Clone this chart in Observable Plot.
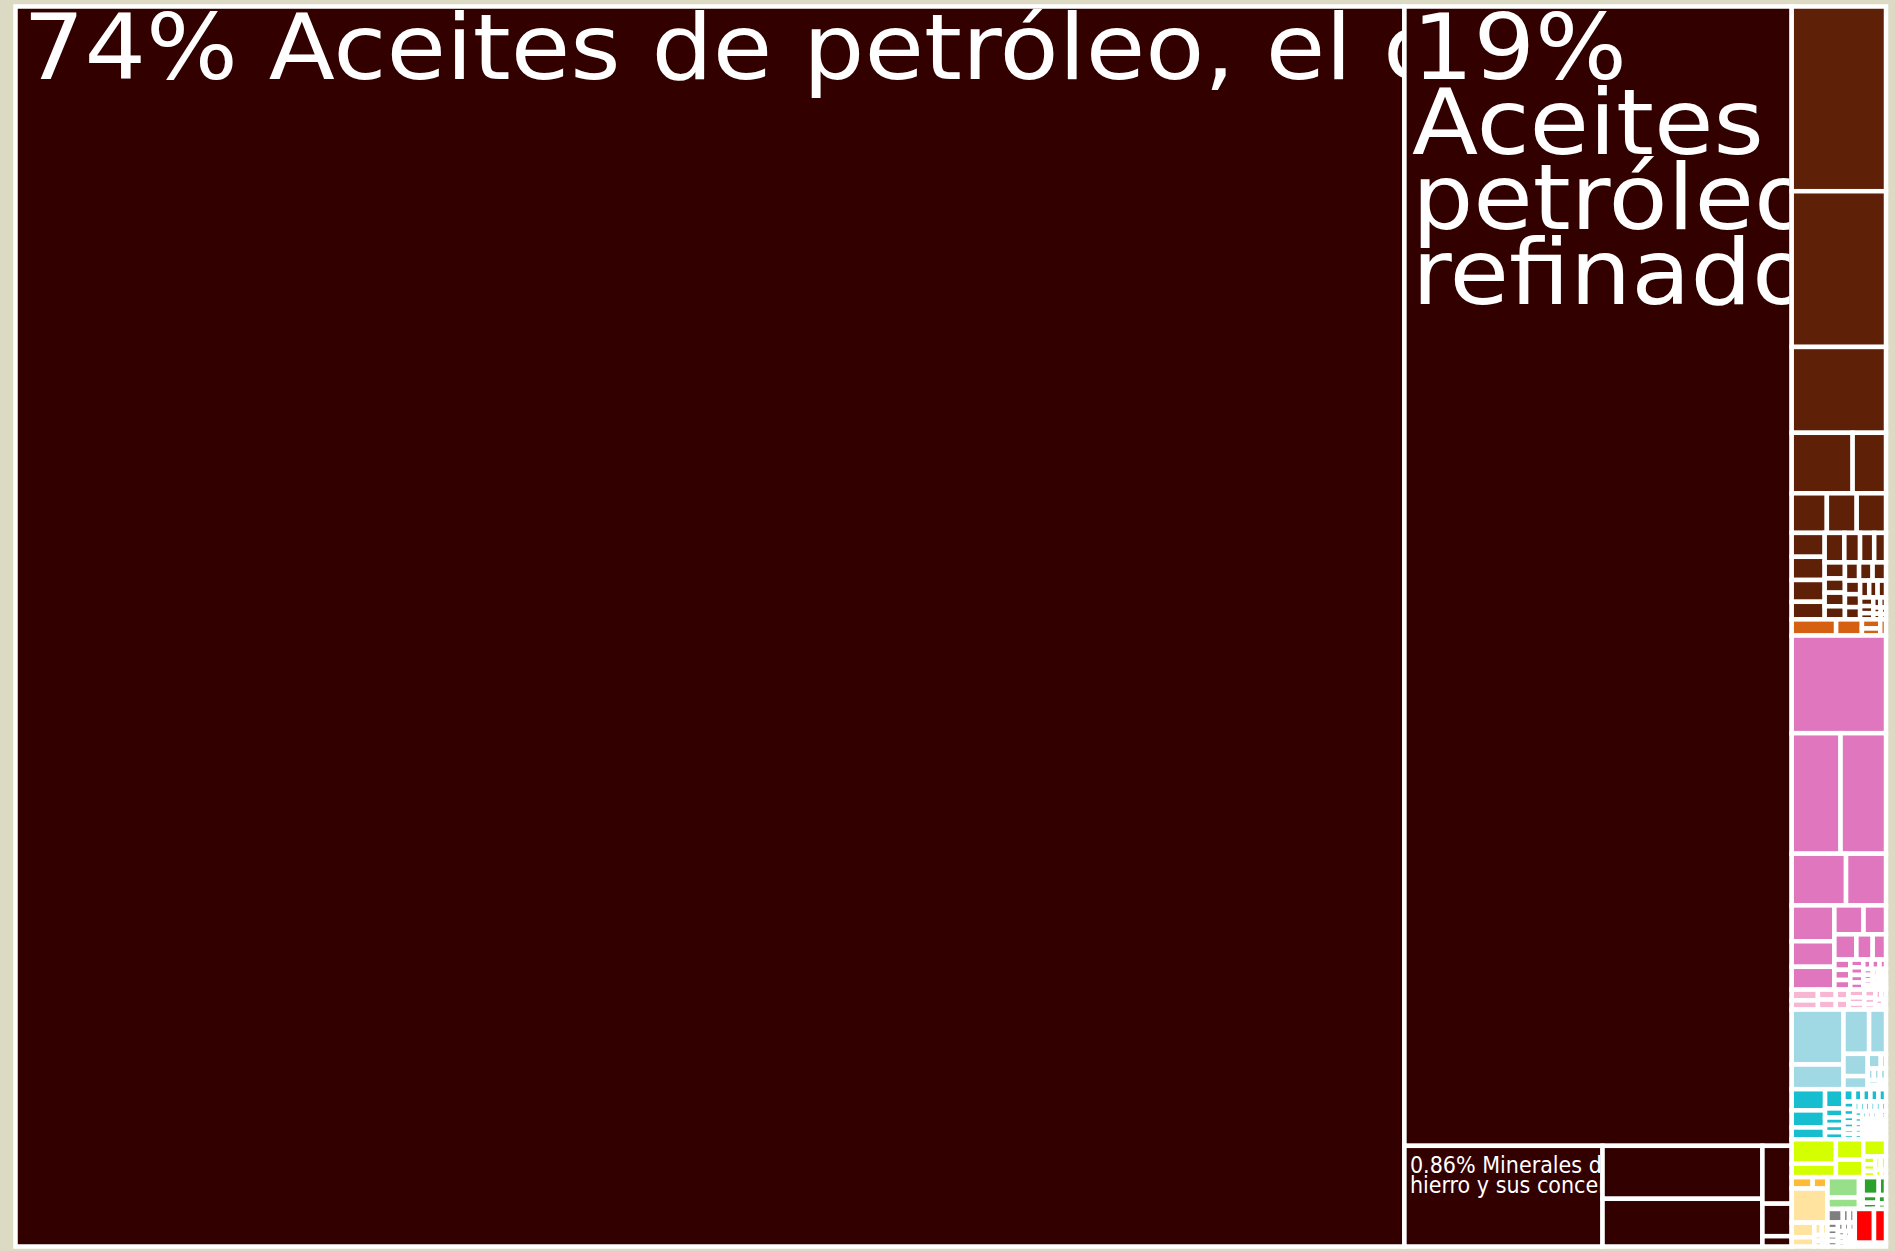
<!DOCTYPE html>
<html>
<head>
<meta charset="utf-8">
<script src="https://cdn.jsdelivr.net/npm/d3@7"></script>
<script src="https://cdn.jsdelivr.net/npm/@observablehq/plot@0.6"></script>
<style>
  html, body { margin: 0; padding: 0; background: #dddac4; overflow: hidden; }
  #chart svg { display: block; }
</style>
</head>
<body>
<div id="chart"></div>
<script>
// ---------------- DATA (share of exports, %) ----------------
const sectors = ["Sector 1", "Sector 2", "Sector 3", "Sector 4", "Sector 5", "Sector 6", "Sector 7",
                 "Sector 8", "Sector 9", "Sector 10", "Sector 11", "Sector 12", "Sector 13", "Sector 14"];

const sector01 = [74.24, 19.02, 0.86, 0.365, 0.329, 0.073, 0.041, 0.013];
const sector02 = [0.751, 0.633, 0.349, 0.159, 0.087, 0.060, 0.051, 0.050, 0.034, 0.033, 0.031, 0.025, 0.025,
                  0.020, 0.018, 0.015, 0.014, 0.0124, 0.0119, 0.0114, 0.0111, 0.0106, 0.0105, 0.0089, 0.0085,
                  0.0080, 0.0066, 0.0061, 0.0061, 0.0049, 0.004, 0.0035, 0.003, 0.0025, 0.002, 0.0018, 0.0015, 0.0012];
const sector03 = [0.031, 0.018, 0.0072, 0.0056, 0.004];
const sector04 = [0.397, 0.254, 0.236, 0.121, 0.089, 0.066, 0.047, 0.042, 0.0364, 0.028, 0.024, 0.0178, 0.0145,
                  0.007, 0.007, 0.0066, 0.0043, 0.0043, 0.0042, 0.004, 0.0033, 0.0033, 0.0026, 0.0024, 0.0022,
                  0.002, 0.0018, 0.0017, 0.0015, 0.0013, 0.0013, 0.0011, 0.0011, 0.0009, 0.0008, 0.0008, 0.0007, 0.0006];
const sector05 = [0.0122, 0.0104, 0.0077, 0.0077, 0.0055, 0.0055, 0.0052, 0.0042, 0.0041, 0.0039, 0.003,
                  0.0026, 0.0025, 0.002, 0.002, 0.0015, 0.0012];
const sector06 = [0.1226, 0.0551, 0.0489, 0.0322, 0.0233, 0.0137, 0.0083, 0.0033, 0.003, 0.003, 0.003,
                  0.0025, 0.002, 0.0015, 0.0012];
const sector07 = [0.0305, 0.0246, 0.017, 0.0152, 0.0072, 0.0059, 0.0057, 0.0056, 0.0056, 0.0045, 0.0043,
                  0.0043, 0.004, 0.0035, 0.0034, 0.003, 0.003, 0.0025, 0.0025, 0.0022, 0.0022, 0.0022, 0.0022,
                  0.0022, 0.0021, 0.002, 0.002, 0.0019, 0.0018, 0.0018, 0.0017, 0.0016, 0.0016, 0.0015, 0.0015,
                  0.0014, 0.0014, 0.0013, 0.0013, 0.0012, 0.0012, 0.0011, 0.0011, 0.001, 0.001, 0.001, 0.0009,
                  0.0009, 0.0008, 0.0008, 0.0008, 0.0007, 0.0007, 0.0006, 0.0006, 0.0005, 0.0005];
const sector08 = [0.0465, 0.0257, 0.0241, 0.0206, 0.0169, 0.004, 0.0035, 0.0032, 0.003, 0.003, 0.002, 0.0015];
const sector09 = [0.0103, 0.0073];
const sector10 = [0.0526, 0.0143, 0.009, 0.004, 0.003, 0.002, 0.002, 0.0015, 0.001];
const sector11 = [0.0277, 0.0155, 0.003, 0.002];
const sector12 = [0.0124, 0.0056, 0.005, 0.004, 0.003, 0.002];
const sector13 = [0.009, 0.0036, 0.0034, 0.003, 0.0028, 0.0025, 0.0025, 0.0022, 0.002, 0.002, 0.0018, 0.0016,
                  0.0015, 0.0014, 0.0012, 0.001, 0.001, 0.0009, 0.0008];
const sector14 = [0.028, 0.0175, 0.005];

const sectorValues = [sector01, sector02, sector03, sector04, sector05, sector06, sector07,
                      sector08, sector09, sector10, sector11, sector12, sector13, sector14];

// labels of the first products of sector 1 (text as shown)
const productLabels = [
  "74% Aceites de petróleo, el crudo",
  "19%\nAceites de\npetróleo\nrefinados",
  "0.86% Minerales de\nhierro y sus concentrados"
];

// ---------------- STYLE ----------------
const sectorColors = ["#330000", "#5e2006", "#d66012", "#e077be", "#f7b6d2", "#a0d8e4", "#17becf",
                      "#d4ff00", "#ffbb33", "#ffe39f", "#98df8a", "#2ca02c", "#7f7f7f", "#ff0000"];
const tileRatio = {"Sector 1": 1.8};           // squarify aspect preference per sector (default: golden)
const bg = "#dddac4";
const W = 1895, H = 1251;
const edgeL = 15.5, edgeT = 6.5, edgeR = 1886, edgeB = 1246.5;
const gap = 4.5;

// ---------------- LAYOUT (d3 treemap) ----------------
const tree = {
  name: "root",
  children: sectors.map((s, i) => ({
    name: s,
    children: sectorValues[i].map((v, j) => ({
      name: `${s} · ${j + 1}`, sector: s, value: v,
      label: i === 0 && j < productLabels.length ? productLabels[j] : null
    }))
  }))
};
const LW = edgeR - edgeL, LH = edgeB - edgeT;
const root = d3.hierarchy(tree).sum(d => d.value ?? 0);
const tile = (node, x0, y0, x1, y1) => {
  const t = node.depth === 0 ? d3.treemapSquarify.ratio(1)
          : tileRatio[node.data.name] ? d3.treemapSquarify.ratio(tileRatio[node.data.name])
          : d3.treemapSquarify;
  t(node, x0, y0, x1, y1);
};
d3.treemap().size([LW, LH]).tile(tile).round(false)(root);

const cells = root.leaves().map(d => ({
  x0: d.x0, x1: d.x1, y0: d.y0, y1: d.y1,
  sector: d.data.sector, name: d.data.name, value: d.value, label: d.data.label
}));
const bigLabels = cells.filter(d => d.label && d.value >= 5);
const smallLabels = cells.filter(d => d.label && d.value < 5);

// ---------------- PLOT ----------------
const chart = Plot.plot({
  width: W, height: H, margin: 0,
  style: {background: bg},
  x: {domain: [0, LW], range: [edgeL, edgeR], axis: null},
  y: {domain: [0, LH], range: [edgeT, edgeB], axis: null},
  color: {domain: sectors, range: sectorColors},
  marks: [
    Plot.rect(cells, {x1: "x0", x2: "x1", y1: "y0", y2: "y1", fill: "sector",
                      stroke: "white", strokeWidth: gap, title: "name"}),
    Plot.text(bigLabels, {x: "x0", y: "y0", text: "label", fill: "white",
                          fontSize: 90, fontFamily: "DejaVu Sans, Verdana, sans-serif",
                          textAnchor: "start", lineAnchor: "top", lineHeight: 0.833,
                          dx: 7, dy: 19}),
    Plot.text(smallLabels, {x: "x0", y: "y0", text: "label", fill: "white",
                            fontSize: 23, fontFamily: "DejaVu Sans Condensed, DejaVu Sans, sans-serif",
                            textAnchor: "start", lineAnchor: "top", lineHeight: 0.87,
                            dx: 5, dy: 12})
  ]
});
document.getElementById("chart").appendChild(chart);

// clip each label to its own cell (inside the white border); widen the big labels a little
const xs = chart.scale("x"), ys = chart.scale("y");
const svgSel = d3.select(chart);
const defs = svgSel.append("defs");
const allLabels = bigLabels.concat(smallLabels);
svgSel.selectAll("text").nodes().forEach((el, i) => {
  const d = allLabels[i];
  if (!d) return;
  if (d.value >= 5) {
    const tr = el.getAttribute("transform") || "";
    el.setAttribute("transform", tr + " scale(1.075,1)");
  }
  const wrap = document.createElementNS("http://www.w3.org/2000/svg", "g");
  el.parentNode.insertBefore(wrap, el);
  wrap.appendChild(el);
  const m = wrap.getCTM() || {e: 0, f: 0};
  const id = `label-clip-${i}`;
  const x0 = xs.apply(d.x0) + gap / 2, x1 = xs.apply(d.x1) - gap / 2;
  const y0 = ys.apply(d.y0) + gap / 2, y1 = ys.apply(d.y1) - gap / 2;
  defs.append("clipPath").attr("id", id).attr("clipPathUnits", "userSpaceOnUse")
    .append("rect").attr("x", x0 - m.e).attr("y", y0 - m.f)
    .attr("width", x1 - x0).attr("height", y1 - y0);
  wrap.setAttribute("clip-path", `url(#${id})`);
});
</script>
</body>
</html>
